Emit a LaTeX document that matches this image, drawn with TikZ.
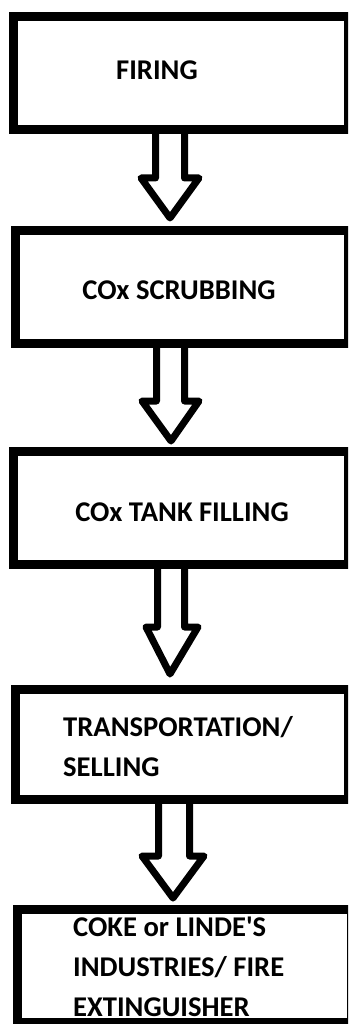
\documentclass[tikz,border=0pt]{standalone}
\usepackage{fontspec}
\newfontfamily\labfont{Carlito}
\begin{document}
\begin{tikzpicture}[x=1pt,y=-1pt,
  box/.style={draw=black, line width=9pt, rectangle, inner sep=0pt, line join=miter},
  label/.style={inner sep=0pt, font=\labfont\fontsize{28.6}{40}\selectfont\bfseries, text=black},
  hollow/.style={draw=black, line width=7pt, line join=round}]
\useasboundingbox (0,0) rectangle (348,1024);
\clip (0,0) rectangle (348,1024);
\fill[white] (0,0) rectangle (348,1024);
% labels first (box borders drawn over them)
\node[label] (t1) at (157,70) {FIRING};
\node[label] (t2) at (179,290) {COx SCRUBBING};
\node[label] (t3) at (182,512) {COx TANK FILLING};
\node[label, align=left, anchor=north west] (t4) at (63,716) {TRANSPORTATION/\\SELLING};
\node[label, align=left, anchor=north west] (t5) at (73,917) {COKE or LINDE'S\\INDUSTRIES/ FIRE\\EXTINGUISHER};
% boxes
\node[box, minimum width=335pt, minimum height=113.5pt] (b1) at (181,73.25) {};
\node[box, minimum width=333pt, minimum height=113pt] (b2) at (182,287) {};
\node[box, minimum width=335pt, minimum height=113pt] (b3) at (181,508) {};
\node[box, minimum width=333pt, minimum height=110pt] (b4) at (182,744.5) {};
\node[box, minimum width=334pt, minimum height=113pt] (b5) at (184,965.5) {};
% hollow arrows
\newcommand\hollowarrow[9]{%
  \coordinate (#9) at (#7,#8);
  \draw[hollow] (#1,#5) -- (#1,#6) -- (#3,#6) -- (#9) -- (#4,#6) -- (#2,#6) -- (#2,#5);}
\hollowarrow{155.5}{184.5}{141}{199}{130}{178}{170}{218}{a1}
\hollowarrow{156.5}{184.5}{142}{199}{343.5}{401}{171}{441}{a2}
\hollowarrow{157.5}{184.5}{146}{198}{564.5}{627}{170}{674}{a3}
\hollowarrow{158.5}{189.5}{142}{204}{799.5}{856}{173}{898}{a4}
\end{tikzpicture}
\end{document}
